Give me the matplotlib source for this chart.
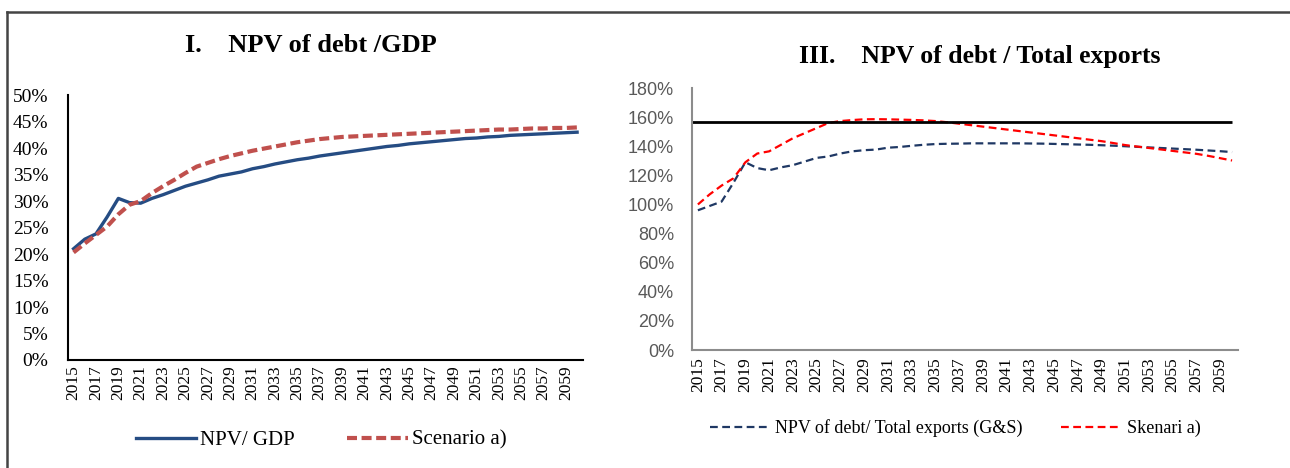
import matplotlib.pyplot as plt
from matplotlib.lines import Line2D
from matplotlib.ticker import PercentFormatter

# Years on both charts
years = list(range(2015, 2061))

# I. NPV of debt / GDP (%)
npv_gdp = [21.0, 22.8, 23.8, 27.0, 30.5, 29.7, 29.6, 30.5, 31.2, 32.0,
           32.8, 33.4, 34.0, 34.7, 35.1, 35.5, 36.1, 36.5, 37.0, 37.4,
           37.8, 38.1, 38.5, 38.8, 39.1, 39.4, 39.7, 40.0, 40.3, 40.5,
           40.8, 41.0, 41.2, 41.4, 41.6, 41.8, 41.9, 42.1, 42.2, 42.4,
           42.5, 42.6, 42.7, 42.8, 42.9, 43.0]
scenario_gdp = [20.3, 22.0, 23.6, 25.2, 27.5, 29.3, 30.0, 31.5, 32.8, 34.0,
                35.3, 36.5, 37.2, 37.9, 38.5, 39.0, 39.5, 39.9, 40.3, 40.7,
                41.1, 41.4, 41.7, 41.9, 42.1, 42.2, 42.3, 42.4, 42.5, 42.6,
                42.7, 42.8, 42.9, 43.0, 43.1, 43.2, 43.3, 43.4, 43.5, 43.5,
                43.6, 43.7, 43.7, 43.8, 43.8, 43.9]

# III. NPV of debt / Total exports (%)
npv_exports = [96, 99, 102, 115, 129, 125, 123.5, 125.5, 127, 129.5,
               132, 133, 135, 136.5, 137.3, 137.7, 139, 139.5, 140.3, 141,
               141.5, 141.7, 141.8, 142, 142, 142, 142, 142, 141.9, 141.8,
               141.6, 141.4, 141.2, 141, 140.7, 140.4, 140, 139.6, 139.2, 138.8,
               138.4, 138, 137.6, 137.1, 136.6, 136]
skenari_exports = [100, 107, 113, 118, 129, 135, 136.5, 141, 145.5, 149,
                   152.5, 156, 157.3, 158, 158.5, 158.6, 158.5, 158.3, 158.1, 157.8,
                   157.3, 156.5, 155.5, 154.5, 153.5, 152.5, 151.5, 150.5, 149.5, 148.5,
                   147.5, 146.5, 145.5, 144.5, 143.5, 142.2, 140.8, 139.8, 138.8, 137.8,
                   136.8, 135.8, 134.8, 133.4, 131.8, 130.2]
threshold = 157

serif = "Liberation Serif"
sans = "Liberation Sans"

fig = plt.figure(figsize=(12.9, 4.68), dpi=100)
x = list(range(len(years)))
tick_pos = x[::2]
tick_lab = [str(y) for y in years[::2]]

# ---- left panel
ax1 = fig.add_axes([0.0527, 0.2308, 0.399, 0.566])
ax1.plot(x, npv_gdp, color="#254C83", lw=2.4, label="NPV/ GDP")
ax1.plot(x, scenario_gdp, color="#C0504D", lw=3, dashes=(2.4, 1.1), label="Scenario a)")
ax1.set_xlim(-0.5, len(years) - 0.5)
ax1.set_ylim(0, 50)
ax1.set_yticks(range(0, 51, 5))
ax1.yaxis.set_major_formatter(PercentFormatter(decimals=0))
ax1.set_xticks(tick_pos)
ax1.set_xticklabels(tick_lab, rotation=90)
for s in ["top", "right"]:
    ax1.spines[s].set_visible(False)
for s in ["left", "bottom"]:
    ax1.spines[s].set_linewidth(1.5)
ax1.tick_params(axis="x", length=0, pad=4)
ax1.tick_params(axis="y", length=0, pad=14)
for lab in ax1.get_xticklabels():
    lab.set_fontfamily(serif)
    lab.set_fontsize(12.5)
for lab in ax1.get_yticklabels():
    lab.set_fontfamily(serif)
    lab.set_fontsize(14)
ax1.legend(loc="center", bbox_to_anchor=(321 / 1290, 1 - 440 / 468),
           bbox_transform=fig.transFigure, ncol=2, frameon=False,
           prop={"family": serif, "size": 15}, handlelength=2.9,
           handletextpad=0.2, columnspacing=2.5)
fig.text(311 / 1290, 1 - 46 / 468, "I.    NPV of debt /GDP", ha="center", va="center",
         fontfamily=serif, fontweight="bold", fontsize=19)

# ---- right panel
ax2 = fig.add_axes([0.5364, 0.2521, 0.4233, 0.5598])
ax2.plot(x, npv_exports, color="#1F3864", lw=1.6, dashes=(3.5, 2),
         label="NPV of debt/ Total exports (G&S)")
ax2.plot(x, skenari_exports, color="#FF0000", lw=1.6, dashes=(3.5, 2), label="Skenari a)")
ax2.hlines(threshold, -0.5, len(years) - 1, color="black", lw=2)
ax2.set_xlim(-0.5, len(years) - 0.5)
ax2.set_ylim(0, 180)
ax2.set_yticks(range(0, 181, 20))
ax2.yaxis.set_major_formatter(PercentFormatter(decimals=0))
ax2.set_xticks(tick_pos)
ax2.set_xticklabels(tick_lab, rotation=90)
for s in ["top", "right"]:
    ax2.spines[s].set_visible(False)
for s in ["left", "bottom"]:
    ax2.spines[s].set_linewidth(1.5)
    ax2.spines[s].set_color("#8C8C8C")
ax2.tick_params(axis="x", length=0, pad=5)
ax2.tick_params(axis="y", length=0, pad=13)
for lab in ax2.get_yticklabels():
    lab.set_fontfamily(sans)
    lab.set_fontsize(13)
    lab.set_color("#595959")
for lab in ax2.get_xticklabels():
    lab.set_fontfamily(serif)
    lab.set_fontsize(12.5)
ax2.legend(loc="center", bbox_to_anchor=(955 / 1290, 1 - 428 / 468),
           bbox_transform=fig.transFigure, ncol=2, frameon=False,
           prop={"family": serif, "size": 13}, handlelength=3.2,
           handletextpad=0.45, columnspacing=2.1)
fig.text(980 / 1290, 1 - 56 / 468, "III.    NPV of debt / Total exports", ha="center", va="center",
         fontfamily=serif, fontweight="bold", fontsize=18.5)

# outer frame (top and left edge)
fig.add_artist(Line2D([7 / 1290, 1], [1 - 12 / 468, 1 - 12 / 468], transform=fig.transFigure,
                      color="#444444", lw=1.8))
fig.add_artist(Line2D([7 / 1290, 7 / 1290], [0, 1 - 12 / 468], transform=fig.transFigure,
                      color="#444444", lw=1.8))

fig.savefig("out.png", dpi=100)
